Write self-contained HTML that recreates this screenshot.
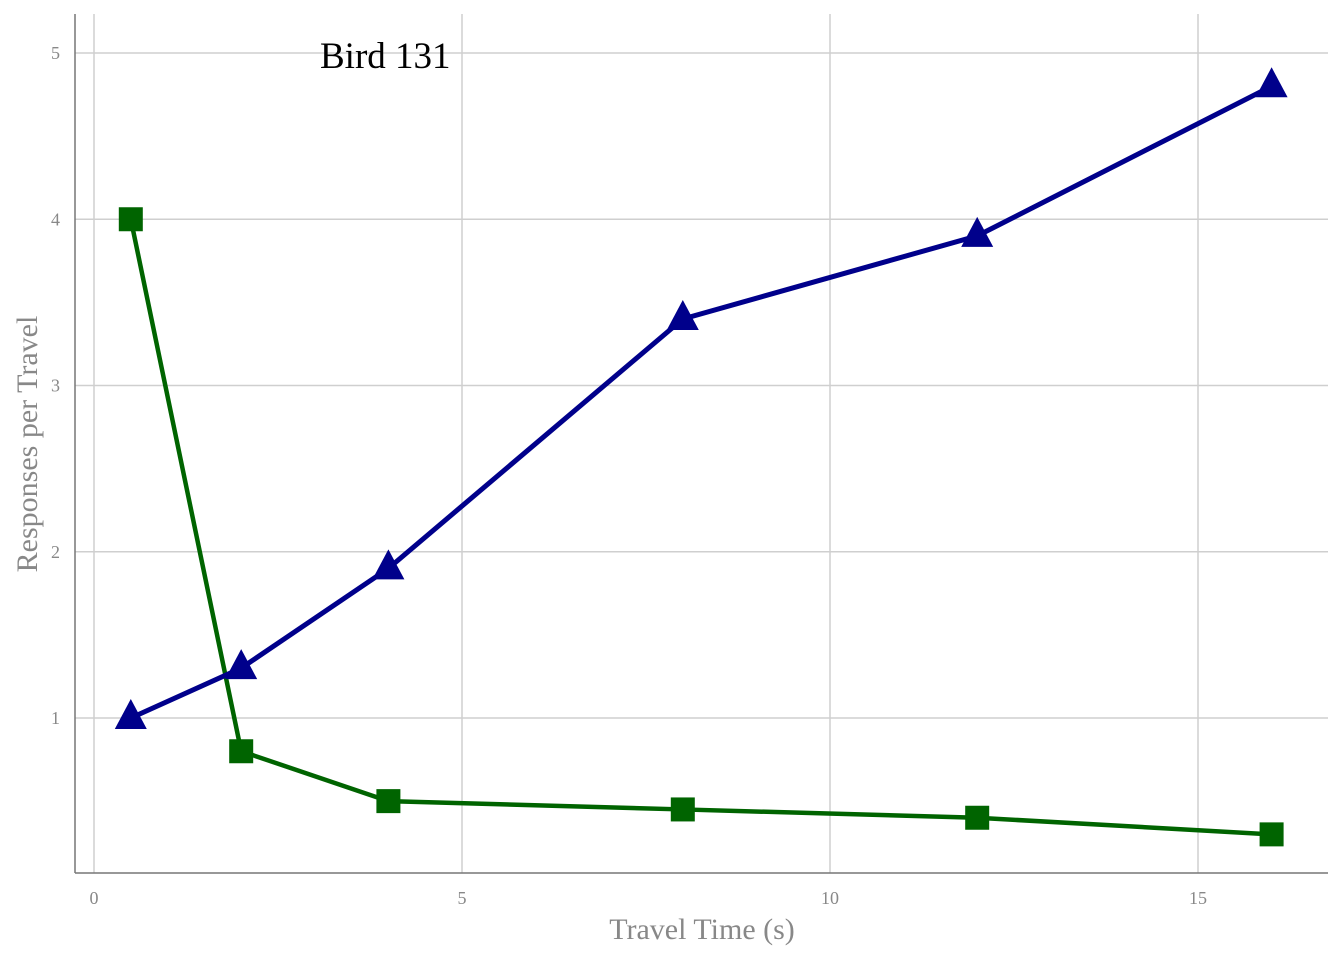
<!DOCTYPE html>
<html><head><meta charset="utf-8"><style>
body{margin:0;background:#fff;}
svg{display:block;font-family:"Liberation Serif",serif;}
</style></head><body>
<svg id="chart" width="1344" height="960" viewBox="0 0 1344 960">
<g id="grid"></g>
<g id="axes">
<line x1="75" y1="14" x2="75" y2="873" stroke="#777" stroke-width="1.5"/>
<line x1="75" y1="873" x2="1328" y2="873" stroke="#777" stroke-width="1.5"/>
</g>
<g id="ticks"></g>
<g id="series"></g>
<text x="320" y="68" font-size="37" fill="#000">Bird 131</text>
<text x="702" y="939" font-size="30" fill="#888" text-anchor="middle">Travel Time (s)</text>
<text transform="translate(37,444) rotate(-90)" font-size="30" fill="#888" text-anchor="middle">Responses per Travel</text>
</svg>
<script>
const xValues=[0.5,2,4,8,12,16];
const blueValues=[1,1.3,1.9,3.4,3.9,4.8];
const greenValues=[4,0.8,0.5,0.45,0.4,0.3];
const xTicks=[0,5,10,15];
const yTicks=[1,2,3,4,5];
const NS="http://www.w3.org/2000/svg";
function sx(v){return 94+v*73.6;}
function sy(v){return 718-(v-1)*166.25;}
function mk(tag,attrs,parent){const e=document.createElementNS(NS,tag);for(const k in attrs)e.setAttribute(k,attrs[k]);parent.appendChild(e);return e;}
const grid=document.getElementById('grid'),ticks=document.getElementById('ticks'),series=document.getElementById('series');
xTicks.forEach(t=>{
 const l=mk('line',{x1:sx(t),x2:sx(t),y1:14,y2:873,stroke:'#cfcfcf','stroke-width':1.5},grid);
 
 
 const tx=mk('text',{x:sx(t),y:904,'font-size':18,fill:'#888','text-anchor':'middle'},ticks);
 tx.textContent=t;
 
 
});
yTicks.forEach(t=>{
 const l=mk('line',{x1:75,x2:1328,y1:sy(t),y2:sy(t),stroke:'#cfcfcf','stroke-width':1.5},grid);
 
 
 const tx=mk('text',{x:60,y:sy(t)+6,'font-size':18,fill:'#888','text-anchor':'end'},ticks);
 tx.textContent=t;
 
 
});
function line(vals,color,w,name){
 const p=mk('polyline',{points:xValues.map((x,i)=>sx(x)+','+sy(vals[i])).join(' '),fill:'none',stroke:color,'stroke-width':w},series);
 
 
}
line(greenValues,'#006400',4.5,'green-line');
line(blueValues,'#00008b',5,'blue-line');
xValues.forEach((x,i)=>{
 const cx=sx(x),cy=sy(greenValues[i]);
 const r=mk('rect',{x:cx-12,y:cy-12,width:24,height:24,fill:'#006400'},series);
 
 
});
xValues.forEach((x,i)=>{
 const cx=sx(x),cy=sy(blueValues[i]);
 const t=mk('polygon',{points:`${cx},${cy-19} ${cx-16},${cy+11} ${cx+16},${cy+11}`,fill:'#00008b'},series);
 
 
});
</script>
</body></html>
